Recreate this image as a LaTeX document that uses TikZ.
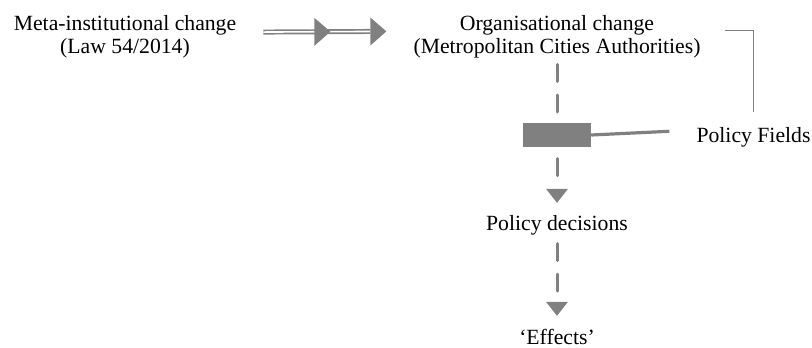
\documentclass[tikz,border=0pt]{standalone}
\usepackage{fontspec}
\setmainfont{Liberation Serif}
\usetikzlibrary{arrows.meta,decorations.markings}
\definecolor{lg}{RGB}{128,128,128}
\begin{document}
\begin{tikzpicture}[x=1pt,y=-1pt,
  txt/.style={inner sep=0pt, font=\fontsize{21.7}{23}\selectfont, align=center, text=black},
  one/.style={txt, text height=15pt, text depth=5pt},
  dbl/.style={draw=lg, line width=1.7pt, double=white, double distance=1.6pt},
  headmark/.style={postaction={decorate, decoration={markings,
      mark=at position 51pt with {\fill[lg] (0pt,-14pt) -- (16pt,0pt) -- (0pt,14pt) -- cycle;},
      mark=at position 1 with {\fill[lg] (0pt,-14pt) -- (16pt,0pt) -- (0pt,14pt) -- cycle;}}}},
  dashcon/.style={draw=lg, line width=3pt, line cap=round, dash pattern=on 17pt off 13.5pt},
  tiptri/.style={-{Triangle[length=14pt,width=22pt,line width=0pt]}},
  bar/.style={fill=lg, draw=none, inner sep=0pt, minimum width=68pt, minimum height=24pt},
  brk/.style={draw=lg, line width=1.5pt},
  link/.style={draw=lg, line width=3.2pt}
]
\useasboundingbox (0,0) rectangle (812,348);

\node[txt, anchor=south] (meta) at (125,58.6) {Meta-institutional change\\(Law 54/2014)};
\node[txt, anchor=south] (org) at (557,58) {Organisational change\\(Metropolitan Cities Authorities)};
\node[bar] (rect) at (557,135) {};
\node[one, anchor=base] (pf) at (753.5,142) {Policy Fields};
\node[one, anchor=base] (pd) at (557,230) {Policy decisions};
\node[one, anchor=base] (eff) at (557,344) {‘Effects’};

% double arrow
\draw[dbl, headmark] ([xshift=27pt,yshift=5pt]meta.east) -- ([xshift=-43pt,yshift=5pt]org.west);

% dashed flow
\draw[dashcon, shorten <=6.5pt] (org.south) -- (rect.north);
\draw[dashcon, tiptri, shorten <=11.5pt, shorten >=12pt] (rect.south) -- (pd.north);
\draw[dashcon, tiptri, shorten <=8.5pt, shorten >=13pt] (pd.south) -- (eff.north);

% policy fields link
\draw[link, shorten >=27pt] (rect.east) -- ([yshift=7pt]pf.west);

% bracket
\draw[brk, shorten >=15pt] ([xshift=24pt,yshift=6pt]org.east) -| (pf.north);
\end{tikzpicture}
\end{document}
